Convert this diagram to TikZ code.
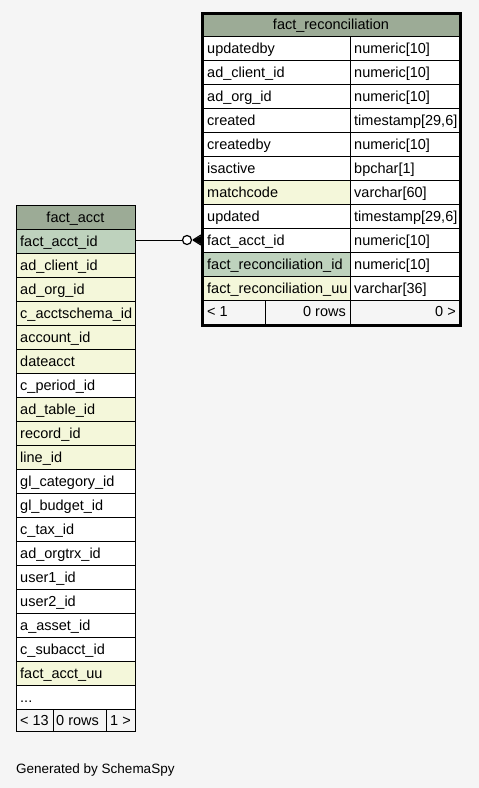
\documentclass[tikz,border=0pt]{standalone}
\usepackage{fontspec}
\setmainfont{Liberation Sans}
\definecolor{bg}{HTML}{F5F5F5}
\definecolor{hdr}{HTML}{9CAB96}
\definecolor{pk}{HTML}{BED2BD}
\definecolor{idx}{HTML}{F4F7DA}
\definecolor{foot}{HTML}{F5F5F5}
\newcommand\rowdots{...}
\tikzset{
  cellbox/.style={draw=black, line width=1pt},
  txt/.style={inner sep=0pt, font=\fontsize{14.5}{16}\selectfont, anchor=base west},
  txtr/.style={inner sep=0pt, font=\fontsize{14.5}{16}\selectfont, anchor=base east},
  txtc/.style={inner sep=0pt, font=\fontsize{14.5}{16}\selectfont, anchor=base}
}
\begin{document}
\begin{tikzpicture}[x=1pt,y=-1pt]
\fill[bg] (0,0) rectangle (479,788);
\useasboundingbox (0,0) rectangle (479,788);

% ---------- fact_acct ----------
\draw[cellbox, fill=hdr] (16,205) rectangle (135,229);
\node[txtc] (fahdr) at (75.5,222) {fact\_acct};
\foreach \nm/\cl [count=\i] in {
  fact\_acct\_id/pk, ad\_client\_id/idx, ad\_org\_id/idx, c\_acctschema\_id/idx,
  account\_id/idx, dateacct/idx, c\_period\_id/white, ad\_table\_id/idx,
  record\_id/idx, line\_id/idx, gl\_category\_id/white, gl\_budget\_id/white,
  c\_tax\_id/white, ad\_orgtrx\_id/white, user1\_id/white, user2\_id/white,
  a\_asset\_id/white, c\_subacct\_id/white, fact\_acct\_uu/idx, \rowdots/white}{
  \pgfmathsetmacro{\yt}{229+(\i-1)*24}
  \draw[cellbox, fill=\cl] (16,\yt) rectangle (135,\yt+24);
  \node[txt] (fa\i) at (20,\yt+17) {\nm};
}
\draw[cellbox, fill=foot] (16,709) rectangle (53,731);
\draw[cellbox, fill=foot] (53,709) rectangle (106,731);
\draw[cellbox, fill=foot] (106,709) rectangle (135,731);
\node[txt] (faf1) at (20,725) {< 13};
\node[txt] (faf2) at (56,725) {0 rows};
\node[txt] (faf3) at (110,725) {1 >};

% ---------- fact_reconciliation ----------
\draw[cellbox, fill=hdr] (202,13) rectangle (460,36);
\node[txtc] (frhdr) at (331,29) {fact\_reconciliation};
\foreach \nm/\ty/\cl [count=\i] in {
  updatedby/numeric[10]/white, ad\_client\_id/numeric[10]/white,
  ad\_org\_id/numeric[10]/white, created/timestamp[29{,}6]/white,
  createdby/numeric[10]/white, isactive/bpchar[1]/white,
  matchcode/varchar[60]/idx, updated/timestamp[29{,}6]/white,
  fact\_acct\_id/numeric[10]/white, fact\_reconciliation\_id/numeric[10]/pk,
  fact\_reconciliation\_uu/varchar[36]/idx}{
  \pgfmathsetmacro{\yt}{36+(\i-1)*24}
  \draw[cellbox, fill=\cl] (202,\yt) rectangle (350,\yt+24);
  \draw[cellbox, fill=white] (350,\yt) rectangle (460,\yt+24);
  \node[txt] (frn\i) at (207,\yt+17) {\nm};
  \node[txt] (frt\i) at (354,\yt+17) {\ty};
}
\draw[cellbox, fill=foot] (202,300) rectangle (265,324);
\draw[cellbox, fill=foot] (265,300) rectangle (350,324);
\draw[cellbox, fill=foot] (350,300) rectangle (460,324);
\node[txt] (frf1) at (207,316) {< 1};
\node[txtr] (frf2) at (346,316) {0 rows};
\node[txtr] (frf3) at (456,316) {0 >};
\draw[line width=3pt] (202,13) rectangle (460,325);

% ---------- connector ----------
\coordinate (src) at (135,240);
\coordinate (dst) at (201,240);
\coordinate (circ) at (187,240);
\coordinate (crow) at (193,240);
\draw[line width=1pt] (src) -- ([xshift=-4.5pt]circ);
\draw[line width=1.2pt, fill=white] (circ) circle (4.5pt);
\draw[line width=1.2pt] (crow) -- ++(8,-5) (crow) -- (dst) (crow) -- ++(8,5);
\fill (crow) -- ++(8,-4) -- ++(0,8) -- cycle;

\node[inner sep=0pt, anchor=base west, font=\fontsize{13.5}{15}\selectfont] (gen) at (16,773) {Generated by SchemaSpy};
\end{tikzpicture}
\end{document}
